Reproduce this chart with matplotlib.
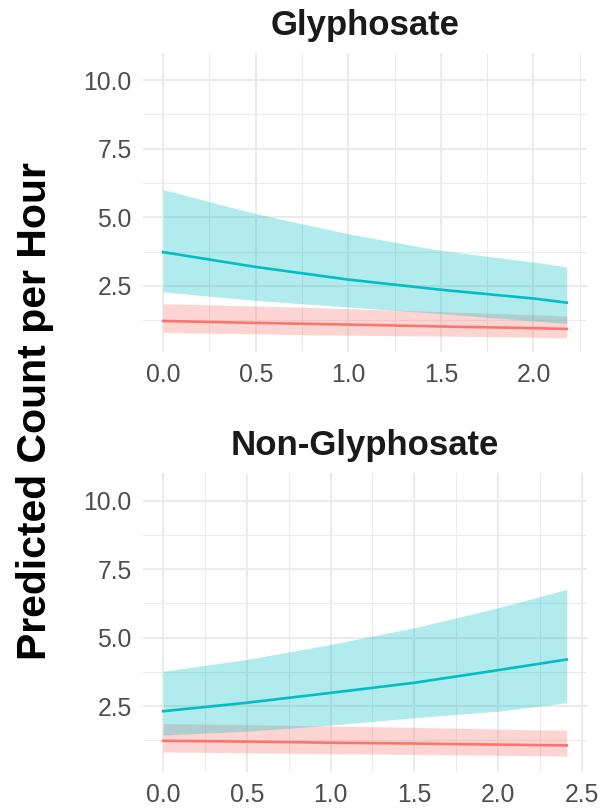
import matplotlib
matplotlib.use("Agg")
import matplotlib.pyplot as plt
from matplotlib.ticker import MultipleLocator

plt.rcParams['font.family'] = ['Liberation Sans', 'DejaVu Sans']

# readings for the Glyphosate panel
x_gly = [0.0, 0.5, 1.0, 1.5, 2.0, 2.18]
gly_hi_fit = [3.73, 3.19, 2.73, 2.36, 2.04, 1.89]
gly_hi_upr = [6.01, 5.13, 4.40, 3.79, 3.37, 3.19]
gly_hi_lwr = [2.28, 1.97, 1.73, 1.49, 1.22, 1.13]
gly_lo_fit = [1.22, 1.15, 1.09, 1.02, 0.96, 0.93]
gly_lo_upr = [1.85, 1.77, 1.67, 1.56, 1.45, 1.40]
gly_lo_lwr = [0.80, 0.75, 0.70, 0.67, 0.63, 0.60]

# readings for the Non-Glyphosate panel
x_non = [0.0, 0.5, 1.0, 1.5, 2.0, 2.41]
non_hi_fit = [2.31, 2.62, 2.98, 3.35, 3.81, 4.20]
non_hi_upr = [3.77, 4.20, 4.75, 5.36, 6.09, 6.76]
non_hi_lwr = [1.44, 1.58, 1.80, 2.07, 2.31, 2.62]
non_lo_fit = [1.23, 1.20, 1.16, 1.13, 1.09, 1.06]
non_lo_upr = [1.86, 1.82, 1.77, 1.72, 1.66, 1.61]
non_lo_lwr = [0.82, 0.79, 0.76, 0.73, 0.70, 0.67]

titles = ["Glyphosate", "Non-Glyphosate"]
red = "#F8766D"
cyan = "#00BFC4"

fig = plt.figure(figsize=(6.02, 8.08), dpi=100)
ax1 = fig.add_axes([0.2375, 0.5647, 0.7375, 0.3701])
ax2 = fig.add_axes([0.2375, 0.0449, 0.7375, 0.3693])

panels = [
    (ax1, x_gly, gly_lo_fit, gly_lo_lwr, gly_lo_upr, gly_hi_fit, gly_hi_lwr, gly_hi_upr),
    (ax2, x_non, non_lo_fit, non_lo_lwr, non_lo_upr, non_hi_fit, non_hi_lwr, non_hi_upr),
]

for ax, x, lf, ll, lu, hf, hl, hu in panels:
    # ribbons first, then the fitted lines on top
    ax.fill_between(x, ll, lu, color=red, alpha=0.3, lw=0)
    ax.fill_between(x, hl, hu, color=cyan, alpha=0.3, lw=0)
    ax.plot(x, lf, color=red, lw=1.9)
    ax.plot(x, hf, color=cyan, lw=1.9)

    span = x[-1] - x[0]
    ax.set_xlim(x[0] - 0.05 * span, x[-1] + 0.05 * span)
    ax.set_ylim(0.1, 11.0)
    ax.yaxis.set_major_locator(MultipleLocator(2.5))
    ax.yaxis.set_minor_locator(MultipleLocator(1.25))
    ax.xaxis.set_major_locator(MultipleLocator(0.5))
    ax.xaxis.set_minor_locator(MultipleLocator(0.25))
    ax.set_yticks([2.5, 5.0, 7.5, 10.0])
    ax.set_yticklabels(["2.5", "5.0", "7.5", "10.0"])
    ax.xaxis.set_major_formatter(matplotlib.ticker.FormatStrFormatter('%.1f'))

    ax.grid(which='major', color='#EBEBEB', lw=1.5)
    ax.grid(which='minor', color='#EBEBEB', lw=0.8)
    ax.set_axisbelow(True)
    for s in ax.spines.values():
        s.set_visible(False)
    ax.tick_params(which='both', length=0)
    ax.tick_params(axis='both', labelsize=17.8, labelcolor='#4D4D4D')
    ax.tick_params(axis='x', pad=8)
    ax.tick_params(axis='y', pad=8)

cx = 365 / 602
fig.text(cx, 1 - 35 / 808, titles[0], ha='center', va='baseline',
         fontsize=25, fontweight='bold', color='#1A1A1A')
fig.text(cx, 1 - 455 / 808, titles[1], ha='center', va='baseline',
         fontsize=25, fontweight='bold', color='#1A1A1A')

fig.text(0.058, 0.491, "Predicted Count per Hour", rotation=90, ha='center',
         va='center', fontsize=29.5, fontweight='bold', color='black')

fig.savefig("out.png", dpi=100)
